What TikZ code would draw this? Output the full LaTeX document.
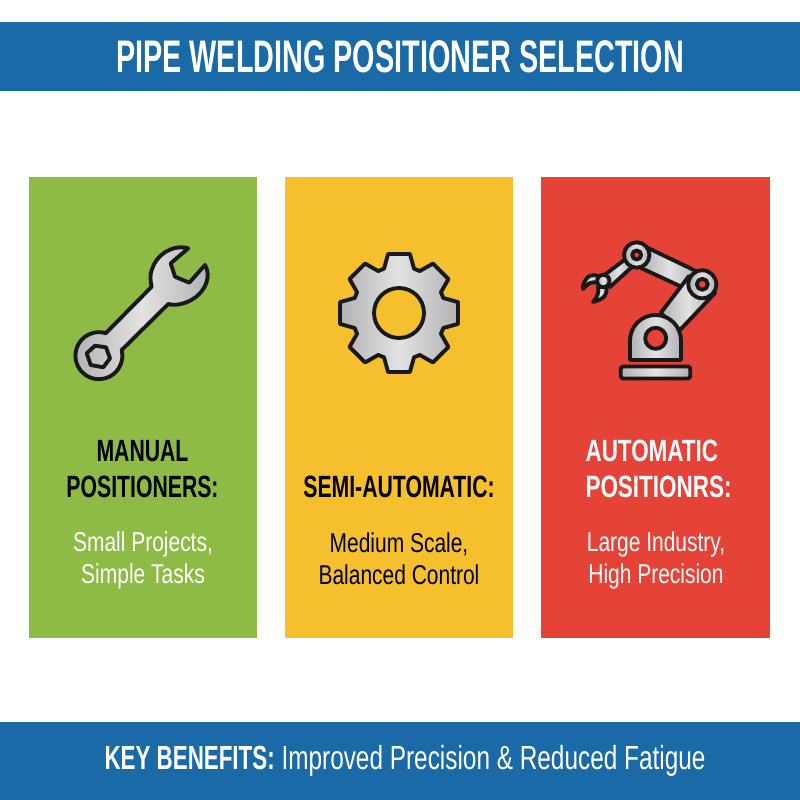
\documentclass[tikz,border=0pt]{standalone}
\usepackage{fontspec}
\setmainfont[FakeStretch=0.77]{Liberation Sans}
\newfontfamily\titlefont[FakeStretch=0.63]{Liberation Sans}
\newfontfamily\headfont[FakeStretch=0.69]{Liberation Sans}
\newfontfamily\autofont[FakeStretch=0.73]{Liberation Sans}
\newfontfamily\footfont[FakeStretch=0.73]{Liberation Sans}
\newfontfamily\footboldfont[FakeStretch=0.67]{Liberation Sans}
\usepackage{tikz}
\usetikzlibrary{positioning}
\definecolor{wpblue}{RGB}{26,106,168}
\definecolor{wpgreen}{RGB}{141,187,69}
\definecolor{wpyellow}{RGB}{245,191,46}
\definecolor{wpred}{RGB}{230,67,56}
\definecolor{wpsteel}{RGB}{178,178,178}
\definecolor{wpshine}{RGB}{226,226,226}
\tikzstyle{band} = [rectangle, minimum width=16cm, fill=wpblue, text=white, inner sep=0pt, outer sep=0pt]
\tikzstyle{card} = [rectangle, minimum width=4.56cm, minimum height=9.24cm, inner sep=0pt, outer sep=0pt]
\tikzstyle{heading} = [align=center, font=\headfont\fontsize{17.5}{20.4}\selectfont\bfseries]
\tikzstyle{detail} = [align=center, font=\fontsize{15.5}{18.2}\selectfont]
\tikzstyle{metal} = [draw=black!90, line width=2.2pt, line join=round, shading=axis, shading angle=135, left color=wpsteel, right color=wpsteel, middle color=wpshine]
\tikzstyle{outline} = [draw=black!90, line width=2.2pt, line join=round]

\begin{document}
\begin{tikzpicture}[x=0.02cm,y=-0.02cm]
\useasboundingbox (0,0) rectangle (800,800);
\fill[white] (0,0) rectangle (800,800);

% Bands
\node[band, minimum height=1.38cm, font=\titlefont\fontsize{26}{28}\selectfont\bfseries] (title) at (400,56.5) {PIPE WELDING POSITIONER SELECTION};
\node[band, minimum height=1.56cm, font=\footfont\fontsize{19}{22}\selectfont] (benefits) at (400,761) {\hspace{0.2cm}{\footboldfont\bfseries KEY BENEFITS:} Improved Precision \& Reduced Fatigue};

% Cards
\node[card, fill=wpgreen] (manual) at (143,407.5) {};
\node[card, fill=wpyellow, right=0.56cm of manual] (semi) {};
\node[card, fill=wpred, minimum width=4.58cm, right=0.56cm of semi] (auto) {};

% Card texts
\node[heading] (manualhead) at (142.5,469) {MANUAL\\POSITIONERS:};
\node[detail, text=white] (manualtext) at (143,560) {Small Projects,\\Simple Tasks};
\node[heading] (semihead) at (399,487) {SEMI-AUTOMATIC:};
\node[detail] (semitext) at (399,559) {Medium Scale,\\Balanced Control};
\node[heading, align=left, font=\autofont\fontsize{17.5}{20.4}\selectfont\bfseries, text=white] (autohead) at (658.5,469) {AUTOMATIC\\POSITIONRS:};
\node[detail, text=white] (autotext) at (656,560) {Large Industry,\\High Precision};

% Wrench
\draw[metal] (188.3,248.3) -- (170.7,263.3) -- (175,276.7) -- (189.3,282.7) -- (205,265)
  .. controls (211,275) and (207,290) .. (193,299) .. controls (185,304) and (175,306) .. (168.3,304)
  -- (121.7,350) arc[start angle=-14, end angle=287, radius=23.5]
  -- (151.7,286.7) .. controls (150,280) and (150,275) .. (151.7,270)
  .. controls (156,255) and (172,244) .. (188.3,248.3) -- cycle;
\draw[outline] (95,345.7) -- (106,347.3) -- (110,358.3) -- (103.3,367.3) -- (90.7,365) -- (86.7,353.3) -- cycle;

% Gear
\begin{scope}[shift={(399,313)}]
\draw[metal] (71.3:46.8) \foreach \a in {90,135,...,405} {-- (\a-18.7:46.8) -- (\a-10.5:60) -- (\a+10.5:60) -- (\a+18.7:46.8)} -- cycle;
\draw[outline, fill=wpyellow] (0,0) circle (25);
\end{scope}

% Robot arm
\draw[metal, rounded corners=1pt] (620.8,366.5) rectangle (690.2,378.5);
\draw[metal] (603,276) -- (627,258) -- (633,266) -- (610,287) -- cycle;
\draw[metal] (648,248) -- (698,272) -- (682,287) -- (641,268) -- cycle;
\draw[metal] (660.7,313) -- (689,276) -- (715,293) -- (680,330) -- cycle;
\draw[metal] (630,360) -- (630,340.5) arc[start angle=180, end angle=360, radius=25.5] -- (681,360) -- cycle;
\draw[outline, fill=wpred] (655.7,338.3) circle (10.5);
\draw[metal] (702.3,284.3) circle (14);
\draw[outline, fill=wpred] (702.3,284.3) circle (5.5);
\draw[metal] (636.7,255) circle (12.7);
\draw[outline, fill=wpred] (636.7,255) circle (4.5);
\draw[metal] (600,277) .. controls (592,273) and (587,275) .. (583,285) -- (583,289) .. controls (588,283) and (592,281) .. (598,283) -- cycle;
\draw[metal] (606,287) .. controls (608,295) and (604,299) .. (593,302) .. controls (598,296) and (599,292) .. (598,287) -- cycle;
\draw[metal] (603.3,281) circle (6.2);
\end{tikzpicture}
\end{document}
